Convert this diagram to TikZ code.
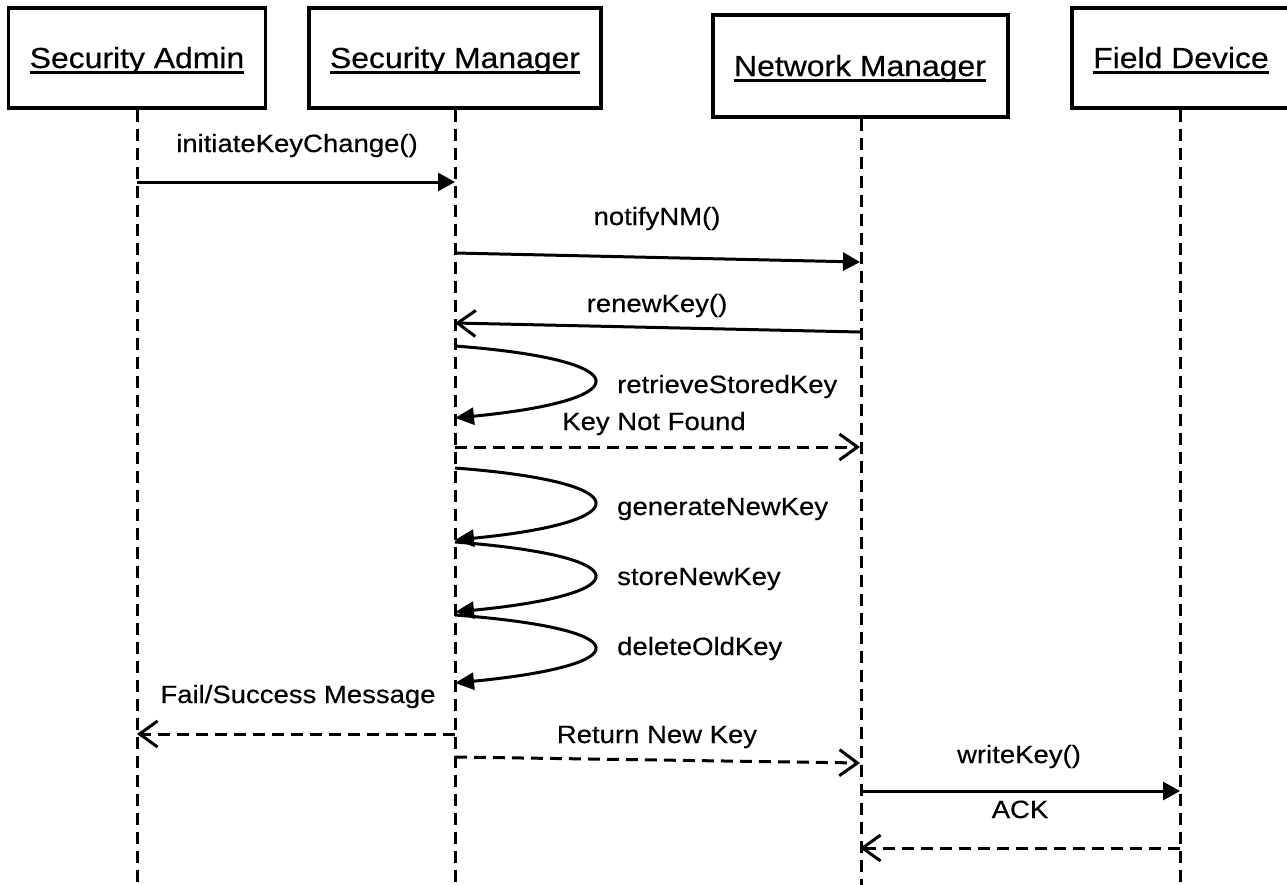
\documentclass[tikz,border=0pt]{standalone}
\usepackage{fontspec}
\setmainfont[FakeStretch=1.1,FakeBold=0.4]{Liberation Sans}
\usetikzlibrary{arrows.meta}

\begin{document}
\begin{tikzpicture}[x=1pt,y=-1pt,
  actor/.style={draw,line width=3.2pt,inner sep=0pt},
  lifeline/.style={line width=3pt,dash pattern=on 12pt off 7pt},
  hdr/.style={inner sep=0pt,anchor=base,font=\fontsize{29}{34}\selectfont},
  lbl/.style={inner sep=0pt,anchor=base,font=\fontsize{25}{30}\selectfont},
  lbll/.style={lbl,anchor=base west},
  call/.style={line width=3pt,-{Triangle[length=17pt,width=18pt]}},
  selfcall/.style={line width=3pt,-{Triangle[length=19pt,width=17pt]}},
  answer/.style={line width=3pt,-{Straight Barb[length=18pt,width=26pt]}},
  reply/.style={answer,dash pattern=on 12pt off 7pt},
  uline/.style={line width=3pt}
]
\clip (0,0) rectangle (1287,884);
\fill[white] (0,0) rectangle (1287,884);

% participant boxes
\node[actor,minimum width=257pt,minimum height=100pt] (saBox) at (137,58) {};
\node[actor,minimum width=292pt,minimum height=100pt] (smBox) at (455,58) {};
\node[actor,minimum width=295pt,minimum height=102pt] (nmBox) at (860.5,66) {};
\node[actor,minimum width=218pt,minimum height=100pt] (fdBox) at (1181,58) {};

% participant names (underlined)
\node[hdr] (saT) at (137,68) {Security Admin};
\node[hdr] (smT) at (455,68) {Security Manager};
\node[hdr] (nmT) at (860,76) {Network Manager};
\node[hdr] (fdT) at (1181,68) {Field Device};
\foreach \t in {saT,smT,nmT,fdT}
  \draw[uline] ([yshift=-4pt]\t.base west) -- ([yshift=-4pt]\t.base east);

% lifelines
\coordinate (saEnd) at (137,890);
\coordinate (smEnd) at (455,890);
\coordinate (nmEnd) at (861,890);
\coordinate (fdEnd) at (1180,890);
\draw[lifeline] (saBox.south -| saEnd) -- (saEnd);
\draw[lifeline] (smBox.south -| smEnd) -- (smEnd);
\draw[lifeline] (nmBox.south -| nmEnd) -- (nmEnd);
\draw[lifeline] (fdBox.south -| fdEnd) -- (fdEnd);

% message end points on the lifelines
\coordinate (sa1) at (137,182);  \coordinate (sm1) at (455,182);
\coordinate (sm2) at (455,253);  \coordinate (nm2) at (860,262);
\coordinate (nm3) at (860,332);  \coordinate (sm3) at (455,323);
\coordinate (sm4a) at (455,346); \coordinate (sm4b) at (455,418);
\coordinate (sm5) at (455,447);  \coordinate (nm5) at (860,447);
\coordinate (sm6a) at (455,468); \coordinate (sm6b) at (455,540);
\coordinate (sm7a) at (455,542); \coordinate (sm7b) at (455,612);
\coordinate (sm8a) at (455,615); \coordinate (sm8b) at (455,683);
\coordinate (sm9) at (455,734);  \coordinate (sa9) at (137,734);
\coordinate (sm10) at (455,757); \coordinate (nm10) at (860,763);
\coordinate (nm11) at (860,791); \coordinate (fd11) at (1180,791);
\coordinate (fd12) at (1180,848); \coordinate (nm12) at (860,848);

% messages
\draw[call] (sa1) -- (sm1);
\node[lbl] (l1) at (297,152) {initiateKeyChange()};

\draw[call] (sm2) -- (nm2);
\node[lbl] (l2) at (657,225) {notifyNM()};

\draw[answer] (nm3) -- (sm3);
\node[lbl] (l3) at (657,312) {renewKey()};

\draw[selfcall] (sm4a) .. controls ++(185,14) and ++(185,-18) .. (sm4b);
\node[lbll] (l4) at (617,393) {retrieveStoredKey};

\draw[reply] (sm5) -- (nm5);
\node[lbl] (l5) at (654,430) {Key Not Found};

\draw[selfcall] (sm6a) .. controls ++(185,14) and ++(185,-18) .. (sm6b);
\node[lbll] (l6) at (617,515) {generateNewKey};

\draw[selfcall] (sm7a) .. controls ++(185,14) and ++(185,-18) .. (sm7b);
\node[lbll] (l7) at (617,585) {storeNewKey};

\draw[selfcall] (sm8a) .. controls ++(185,14) and ++(185,-18) .. (sm8b);
\node[lbll] (l8) at (617,655) {deleteOldKey};

\draw[reply] (sm9) -- (sa9);
\node[lbl] (l9) at (298,703) {Fail/Success Message};

\draw[reply] (sm10) -- (nm10);
\node[lbl] (l10) at (657,743) {Return New Key};

\draw[call] (nm11) -- (fd11);
\node[lbl] (l11) at (1019,763) {writeKey()};

\draw[reply] (fd12) -- (nm12);
\node[lbl] (l12) at (1020,818) {ACK};
\end{tikzpicture}
\end{document}
